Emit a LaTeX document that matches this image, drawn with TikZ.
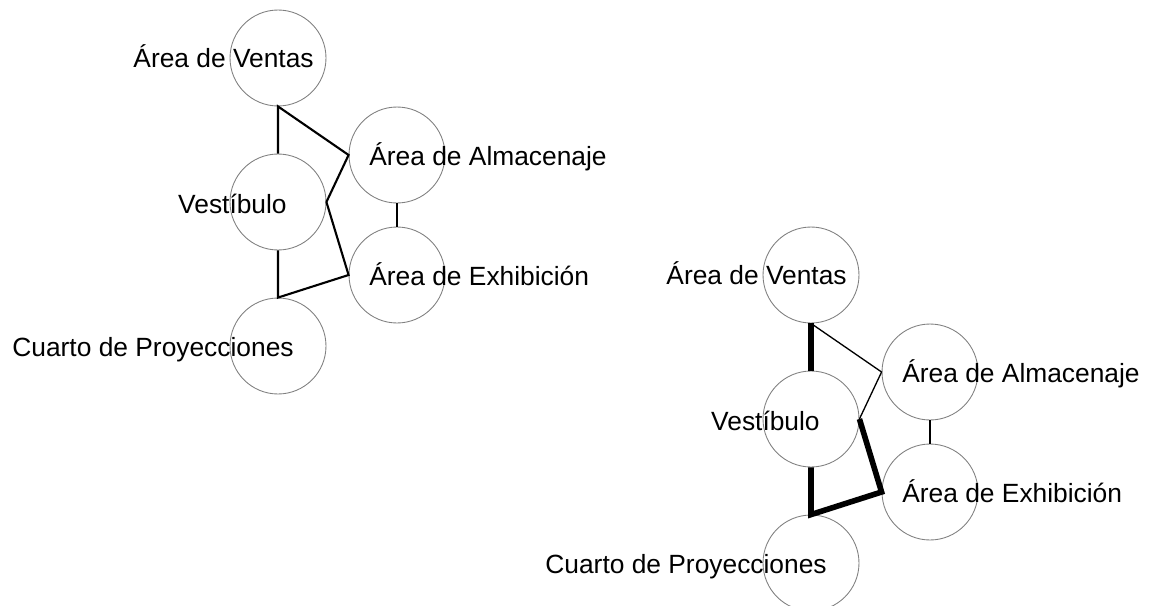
\documentclass[tikz,border=0pt]{standalone}
\usepackage{fontspec}
\setmainfont{Liberation Sans}
\usetikzlibrary{positioning}
\tikzset{
  room/.style={circle, draw=gray, line width=0.5pt,
    minimum size=1.92cm, inner sep=0pt},
  roomlabel/.style={font=\fontsize{15}{18}\selectfont, inner sep=0pt},
  link/.style={line width=1.2pt, line join=miter},
  thinlink/.style={line width=0.75pt},
  thicklink/.style={line width=3.2pt, line join=miter}
}

\begin{document}
\begin{tikzpicture}[x=0.02cm, y=-0.02cm]
\useasboundingbox (0,0) rectangle (1149,605);

%% Primer diagrama
\node[room] (ventasA) at (278,  58) {};
\node[room] (vestA)   at (278, 202) {};
\node[room] (almA)    at (397, 155) {};
\node[room] (exhA)    at (397, 275) {};
\node[room] (cuartoA) at (278, 346) {};

\node[roomlabel, anchor=base east] (lventasA) at (314,  67) {Área de Ventas};
\node[roomlabel, anchor=base east] (lvestA)   at (287, 213) {Vestíbulo};
\node[roomlabel, anchor=base west] (lalmA)    at (369, 165) {Área de Almacenaje};
\node[roomlabel, anchor=base west] (lexhA)    at (369, 285) {Área de Exhibición};
\node[roomlabel, anchor=base east] (lcuartoA) at (294, 356) {Cuarto de Proyecciones};

\draw[link] (vestA.north) -- (ventasA.south) -- (almA.west) -- (vestA.east)
  -- (exhA.west) -- (cuartoA.north) -- (vestA.south);
\draw[link] (almA.south) -- (exhA.north);

%% Segundo diagrama
\node[room] (ventasB) at (811, 275) {};
\node[room] (vestB)   at (811, 419) {};
\node[room] (almB)    at (930, 372) {};
\node[room] (exhB)    at (930, 492) {};
\node[room] (cuartoB) at (811, 563) {};

\node[roomlabel, anchor=base east] (lventasB) at (847, 284) {Área de Ventas};
\node[roomlabel, anchor=base east] (lvestB)   at (820, 430) {Vestíbulo};
\node[roomlabel, anchor=base west] (lalmB)    at (902, 382) {Área de Almacenaje};
\node[roomlabel, anchor=base west] (lexhB)    at (902, 502) {Área de Exhibición};
\node[roomlabel, anchor=base east] (lcuartoB) at (827, 573) {Cuarto de Proyecciones};

\draw[thinlink] (ventasB.south) -- (almB.west) -- (vestB.east);
\draw[thinlink] (almB.south) -- (exhB.north);
\draw[thicklink] (ventasB.south) -- (vestB.north);
\draw[thicklink] (vestB.east) -- (exhB.west) -- (cuartoB.north) -- (vestB.south);

\end{tikzpicture}
\end{document}
